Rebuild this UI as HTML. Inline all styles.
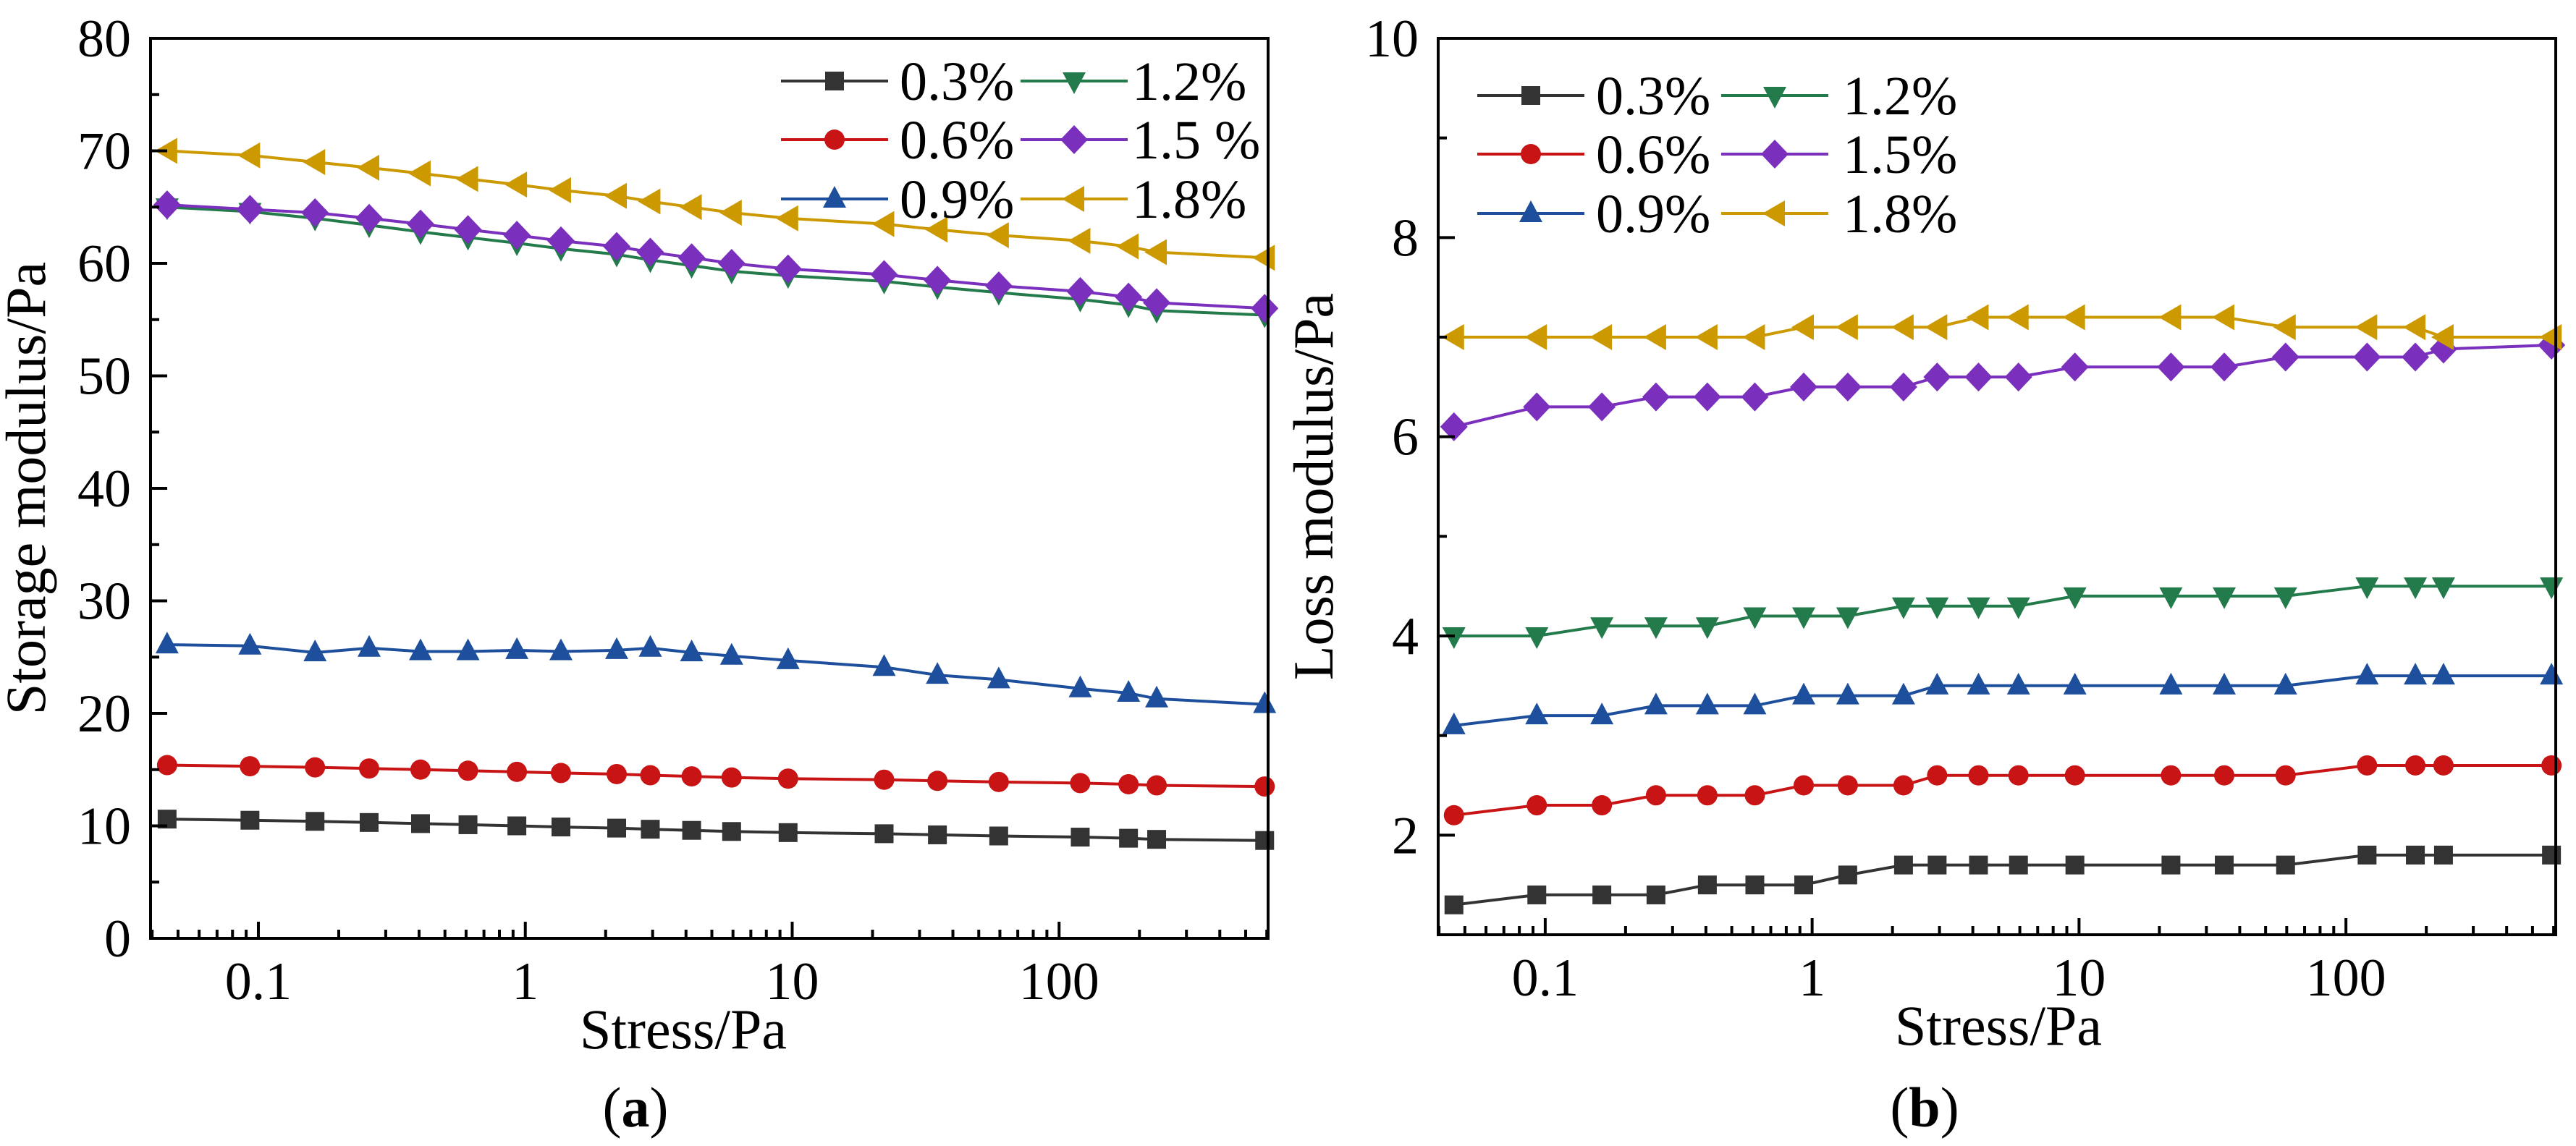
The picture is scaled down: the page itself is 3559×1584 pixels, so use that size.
<!DOCTYPE html>
<html><head><meta charset="utf-8"><style>
html,body{margin:0;padding:0;background:#fff;}
svg{display:block;}
svg text{font-family:"Liberation Serif","DejaVu Serif",serif;}
</style></head><body>
<svg id="fig" width="3559" height="1584" viewBox="0 0 3559 1584" xmlns="http://www.w3.org/2000/svg" font-family="Liberation Serif, serif"></svg>
<script>
const stress = [0.0455,0.093,0.163,0.26,0.405,0.61,0.93,1.36,2.2,2.94,4.2,5.93,9.65,22.1,35,59.4,120,182,232,589];
const seriesLabels = ["0.3%","0.6%","0.9%","1.2%","1.5%","1.8%"];
const legendLabelsA = ["0.3%","0.6%","0.9%","1.2%","1.5 %","1.8%"];
const storage03 = [10.6,10.5,10.4,10.3,10.2,10.1,10.0,9.9,9.8,9.7,9.6,9.5,9.4,9.3,9.2,9.1,9.0,8.9,8.8,8.7];
const storage06 = [15.4,15.3,15.2,15.1,15.0,14.9,14.8,14.7,14.6,14.5,14.4,14.3,14.2,14.1,14.0,13.9,13.8,13.7,13.6,13.5];
const storage09 = [26.1,26.0,25.4,25.8,25.5,25.5,25.6,25.5,25.6,25.8,25.4,25.1,24.7,24.1,23.4,23.0,22.2,21.8,21.3,20.8];
const storage12 = [65.0,64.6,64.0,63.4,62.8,62.3,61.8,61.3,60.8,60.3,59.8,59.3,58.9,58.4,57.9,57.4,56.8,56.3,55.8,55.4];
const storage15 = [65.2,64.8,64.5,64.0,63.5,63.0,62.5,62.0,61.5,61.0,60.5,60.0,59.5,59.0,58.5,58.0,57.5,57.0,56.5,56.0];
const storage18 = [70.0,69.6,69.0,68.5,68.0,67.5,67.0,66.5,66.0,65.5,65.0,64.5,64.0,63.5,63.0,62.5,62.0,61.5,61.0,60.5];
const loss03 = [1.3,1.4,1.4,1.4,1.5,1.5,1.5,1.6,1.7,1.7,1.7,1.7,1.7,1.7,1.7,1.7,1.8,1.8,1.8,1.8];
const loss06 = [2.2,2.3,2.3,2.4,2.4,2.4,2.5,2.5,2.5,2.6,2.6,2.6,2.6,2.6,2.6,2.6,2.7,2.7,2.7,2.7];
const loss09 = [3.1,3.2,3.2,3.3,3.3,3.3,3.4,3.4,3.4,3.5,3.5,3.5,3.5,3.5,3.5,3.5,3.6,3.6,3.6,3.6];
const loss12 = [4.0,4.0,4.1,4.1,4.1,4.2,4.2,4.2,4.3,4.3,4.3,4.3,4.4,4.4,4.4,4.4,4.5,4.5,4.5,4.5];
const loss15 = [6.1,6.3,6.3,6.4,6.4,6.4,6.5,6.5,6.5,6.6,6.6,6.6,6.7,6.7,6.7,6.8,6.8,6.8,6.88,6.92];
const loss18 = [7.0,7.0,7.0,7.0,7.0,7.0,7.1,7.1,7.1,7.1,7.2,7.2,7.2,7.2,7.2,7.1,7.1,7.1,7.0,7.0];
const yTicksA = [0,10,20,30,40,50,60,70,80];
const yTicksB = [2,4,6,8,10];
const xTickLabels = ["0.1","1","10","100"];
const xTickValues = [0.1,1,10,100];

const NS="http://www.w3.org/2000/svg";
const FONT='"Liberation Serif", "DejaVu Serif", serif';
const svg=document.getElementById('fig');
const colors=["#333333","#c81414","#1d4f9c","#237a4a","#7a2fbd","#cc9a00"];
const shapes=["square","circle","up","down","diamond","left"];
function el(tag,attrs,parent){const e=document.createElementNS(NS,tag);for(const k in attrs)e.setAttribute(k,attrs[k]);if(tag==='text')e.style.fontFamily=FONT;(parent||svg).appendChild(e);return e;}
function marker(g,shape,x,y,c){
  let m;
  if(shape==="square") m=el('rect',{x:x-13,y:y-13,width:26,height:26,fill:c},g);
  else if(shape==="circle") m=el('circle',{cx:x,cy:y,r:14,fill:c},g);
  else if(shape==="up") m=el('polygon',{points:`${x},${y-18} ${x+16},${y+12} ${x-16},${y+12}`,fill:c},g);
  else if(shape==="down") m=el('polygon',{points:`${x},${y+18} ${x+16},${y-12} ${x-16},${y-12}`,fill:c},g);
  else if(shape==="diamond") m=el('polygon',{points:`${x},${y-20} ${x+19},${y} ${x},${y+20} ${x-19},${y}`,fill:c},g);
  else m=el('polygon',{points:`${x-17},${y} ${x+14},${y-18} ${x+14},${y+18}`,fill:c},g);
  
  
}
function panel(cfg){
  const g=el('g',{});
  
  
  const {L,R,T,B,ymin,ymax,xminLog,xmaxLog}=cfg;
  const xs=v=>L+(Math.log10(v)-xminLog)/(xmaxLog-xminLog)*(R-L);
  const ys=v=>B-(v-ymin)/(ymax-ymin)*(B-T);
  cfg.series.forEach((s,i)=>{
    const sg=el('g',{},g);
    
    
    const pts=s.map((v,j)=>xs(stress[j]).toFixed(1)+','+ys(v).toFixed(1)).join(' ');
    const pl=el('polyline',{points:pts,fill:'none',stroke:colors[i],'stroke-width':4},sg);
    
    
    s.forEach((v,j)=>marker(sg,shapes[i],xs(stress[j]),ys(v),colors[i]));
  });
  const fr=el('rect',{x:L,y:T,width:R-L,height:B-T,fill:'none',stroke:'#000','stroke-width':4},g);
  
  
  cfg.yTicks.forEach(v=>{
    const y=ys(v);
    el('line',{x1:L,x2:L+23,y1:y,y2:y,stroke:'#000','stroke-width':4},g);
    const t=el('text',{x:L-27,y:y+25,'font-size':74,'text-anchor':'end'},g);
    t.textContent=v;
    
    
  });
  cfg.yMinor.forEach(v=>{const y=ys(v);el('line',{x1:L,x2:L+12,y1:y,y2:y,stroke:'#000','stroke-width':4},g);});
  xTickValues.forEach((v,i)=>{
    const x=xs(v);
    el('line',{x1:x,x2:x,y1:B,y2:B-23,stroke:'#000','stroke-width':4},g);
    const t=el('text',{x:x,y:B+84,'font-size':74,'text-anchor':'middle'},g);
    t.textContent=xTickLabels[i];
    
    
  });
  for(let d=-2;d<=2;d++)for(let k=2;k<=9;k++){
    const lv=d+Math.log10(k);
    if(lv>xminLog&&lv<xmaxLog){const x=xs(Math.pow(10,lv));el('line',{x1:x,x2:x,y1:B,y2:B-12,stroke:'#000','stroke-width':4},g);}
  }
  const xt=el('text',{x:cfg.xtX,y:B+152,'font-size':78,'text-anchor':'middle'},g);
  xt.textContent='Stress/Pa';
  
  
  const yt=el('text',{x:0,y:0,'font-size':78,'text-anchor':'middle',transform:`translate(${cfg.ytX},${(T+B)/2}) rotate(-90)`},g);
  yt.textContent=cfg.ytitle;
  
  
  const cap=el('text',{x:cfg.capX,y:1557,'font-size':78,'text-anchor':'middle'},g);
  cap.innerHTML=cfg.cap;
  
  
  const lg=el('g',{},g);
  
  
  cfg.legendLabels.forEach((lab,i)=>{
    const col=Math.floor(i/3),row=i%3;
    const lx=cfg.legX[col],ly=cfg.legY[row];
    const e=el('g',{},lg);
    
    
    el('line',{x1:lx,x2:lx+148,y1:ly,y2:ly,stroke:colors[i],'stroke-width':4},e);
    marker(e,shapes[i],lx+74,ly,colors[i]);
    const t=el('text',{x:lx+cfg.legTextOff[col],y:ly+26,'font-size':76},e);
    t.textContent=lab;
  });
}
panel({name:'panel-a-storage',L:208,R:1752,T:53,B:1297,ymin:0,ymax:80,xminLog:-1.404,xmaxLog:2.783,
  series:[storage03,storage06,storage09,storage12,storage15,storage18],
  yTicks:yTicksA,yMinor:[5,15,25,35,45,55,65,75],xtX:944,ytX:62,ytitle:'Storage modulus/Pa',capX:878,
  cap:'(<tspan font-weight="bold">a</tspan>)',legendLabels:legendLabelsA,legX:[1079,1410],legY:[112,193,275],legTextOff:[164,154]});
panel({name:'panel-b-loss',L:1987,R:3531,T:53,B:1292,ymin:1,ymax:10,xminLog:-1.401,xmaxLog:2.786,
  series:[loss03,loss06,loss09,loss12,loss15,loss18],
  yTicks:yTicksB,yMinor:[3,5,7,9],xtX:2761,ytX:1841,ytitle:'Loss modulus/Pa',capX:2659,
  cap:'(<tspan font-weight="bold">b</tspan>)',legendLabels:seriesLabels,legX:[2041,2378],legY:[132,213,295],legTextOff:[164,168]});
</script>
</body></html>
